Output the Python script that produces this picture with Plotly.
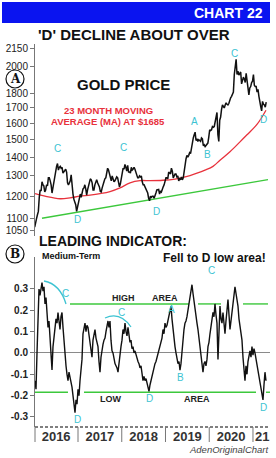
import numpy as np
import plotly.graph_objects as go

W, H = 276, 458

# ---------------- DATA ----------------
# Weekly gold price (4 readings per month), Jan 2016 .. Apr 2021
gold_2016 = [1062, 1090, 1098, 1115, 1130, 1195, 1230, 1225, 1270, 1255, 1250, 1220,
             1230, 1255, 1250, 1290, 1290, 1275, 1255, 1215, 1245, 1280, 1295, 1320,
             1350, 1365, 1330, 1345, 1350, 1340, 1345, 1315, 1325, 1328, 1335, 1320,
             1265, 1255, 1265, 1275, 1305, 1225, 1210, 1185, 1170, 1160, 1130, 1150]
gold_2017 = [1175, 1200, 1210, 1195, 1220, 1235, 1240, 1255, 1235, 1205, 1230, 1250,
             1255, 1285, 1280, 1265, 1230, 1230, 1255, 1268, 1280, 1265, 1255, 1245,
             1222, 1220, 1240, 1265, 1270, 1285, 1290, 1315, 1340, 1330, 1310, 1285,
             1275, 1300, 1285, 1270, 1275, 1285, 1295, 1290, 1265, 1245, 1260, 1295]
gold_2018 = [1320, 1340, 1335, 1360, 1345, 1325, 1355, 1320, 1320, 1315, 1345, 1330,
             1335, 1345, 1335, 1320, 1310, 1290, 1290, 1300, 1295, 1300, 1270, 1255,
             1255, 1245, 1230, 1225, 1215, 1190, 1178, 1200, 1195, 1200, 1200, 1190,
             1200, 1215, 1230, 1230, 1232, 1210, 1225, 1220, 1240, 1245, 1255, 1280]
gold_2019 = [1290, 1290, 1285, 1320, 1315, 1310, 1340, 1325, 1290, 1300, 1310, 1310,
             1295, 1300, 1275, 1285, 1280, 1295, 1280, 1290, 1330, 1345, 1390, 1410,
             1400, 1410, 1425, 1420, 1460, 1500, 1510, 1530, 1545, 1495, 1505, 1490,
             1500, 1495, 1490, 1510, 1505, 1465, 1470, 1460, 1465, 1470, 1480, 1515]
gold_2020 = [1560, 1555, 1560, 1580, 1575, 1580, 1610, 1640, 1670, 1530, 1490, 1620,
             1640, 1690, 1720, 1710, 1700, 1720, 1735, 1725, 1720, 1730, 1755, 1770,
             1780, 1800, 1810, 1940, 2040, 2060, 1940, 1965, 1935, 1945, 1960, 1870,
             1900, 1920, 1905, 1880, 1950, 1885, 1870, 1790, 1840, 1850, 1880, 1890]
gold_2021 = [1940, 1860, 1850, 1850, 1810, 1830, 1780, 1730, 1710, 1680, 1745, 1725,
             1720, 1705, 1740]

# 23-month moving average (decimal year, $)
ma_years = [2016.017, 2016.246, 2016.589, 2016.817, 2017.046, 2017.274, 2017.503,
            2017.731, 2017.960, 2018.189, 2018.417, 2018.646, 2018.943, 2019.217,
            2019.400, 2019.560, 2019.720, 2019.903, 2020.086, 2020.246, 2020.474,
            2020.703, 2020.863, 2021.091, 2021.297]
ma_values = [1212, 1200, 1188, 1192, 1200, 1205, 1212, 1222, 1240, 1265, 1276, 1276,
             1278, 1284, 1292, 1302, 1314, 1330, 1350, 1383, 1430, 1487, 1529, 1593, 1685]

# long-term uptrend line
trend_years = [2016.177, 2021.343]
trend_values = [1100, 1281]

# Leading indicator (medium-term), evenly spaced readings
ind_start, ind_end = 2016.017, 2021.297
indicator = [-0.13, -0.17, 0.00, 0.22, 0.30, 0.27, 0.31, 0.33, 0.29, 0.31,
             0.23, 0.26, 0.19, 0.12, 0.15, 0.05, 0.02, -0.08, 0.03, 0.08,
             0.11, 0.16, 0.14, 0.19, 0.15, 0.11, 0.17, 0.19, 0.12, 0.05,
             -0.02, -0.06, -0.10, -0.13, -0.09, -0.11, -0.14, -0.16, -0.20, -0.24,
             -0.28, -0.22, -0.24, -0.17, -0.20, -0.13, -0.08, -0.03, 0.09, 0.11,
             0.14, 0.10, 0.13, 0.12, 0.08, 0.05, 0.03, -0.02, 0.06, 0.09,
             0.11, 0.07, 0.05, 0.03, -0.04, -0.09, -0.02, 0.02, 0.04, 0.06,
             0.07, 0.10, 0.12, 0.15, 0.12, 0.15, 0.06, 0.01, 0.00, -0.03,
             -0.05, -0.06, -0.07, -0.09, -0.04, 0.00, 0.03, 0.06, 0.11, 0.09,
             0.14, 0.10, 0.08, 0.12, 0.08, 0.05, 0.06, 0.02, 0.03, 0.00,
             0.01, -0.01, -0.02, -0.04, -0.05, -0.07, -0.06, -0.10, -0.13, -0.11,
             -0.13, -0.12, -0.14, -0.16, -0.18, -0.15, -0.13, -0.11, -0.08, -0.07,
             -0.05, -0.04, -0.02, 0.00, 0.01, 0.03, 0.05, 0.07, 0.11, 0.09,
             0.14, 0.12, 0.13, 0.15, 0.17, 0.19, 0.22, 0.16, 0.11, 0.07,
             0.03, 0.00, -0.02, -0.05, -0.04, -0.08, -0.05, 0.01, 0.07, 0.11,
             0.14, 0.15, 0.17, 0.20, 0.22, 0.26, 0.29, 0.32, 0.28, 0.24,
             0.19, 0.16, 0.14, 0.11, 0.07, 0.03, 0.01, -0.02, -0.09, -0.05,
             -0.04, -0.06, -0.03, 0.03, 0.05, 0.09, 0.12, 0.15, 0.19, 0.17,
             0.23, 0.18, 0.14, -0.03, 0.10, 0.22, 0.16, 0.14, 0.19, 0.13,
             0.09, 0.15, 0.20, 0.25, 0.18, 0.11, 0.15, 0.19, 0.25, 0.28,
             0.31, 0.28, 0.25, 0.22, 0.16, 0.12, 0.09, 0.06, -0.02, -0.09,
             -0.13, -0.06, -0.10, -0.04, -0.01, 0.01, -0.02, 0.03, -0.01, 0.02,
             0.00, -0.03, -0.05, -0.08, -0.11, -0.14, -0.17, -0.19, -0.22, -0.15,
             -0.09, -0.13]

high_years = [2016.817, 2019.537, None, 2019.743, 2020.269, None, 2020.771, 2021.343]
high_values = [0.23, 0.23, None, 0.23, 0.23, None, 0.23, 0.23]
low_years = [2016.017, 2016.771, None, 2017.137, 2021.069, None, 2021.297, 2021.389]
low_values = [-0.184, -0.184, None, -0.184, -0.184, None, -0.184, -0.184]

price_ticks = [1050, 1100, 1200, 1300, 1400, 1500, 1600, 1700, 1800, 2000, 2150]
ind_ticks = [-0.3, -0.2, -0.1, 0.0, 0.1, 0.2, 0.3]
ind_tick_text = ["-0.3", "-0.2", "-0.1", "0.0", "0.1", "0.2", "0.3"]
year_ticks = [2016.5, 2017.5, 2018.5, 2019.5, 2020.5, 2021.21]
year_labels = ["2016", "2017", "2018", "2019", "2020", "21"]
year_bounds = [2017, 2018, 2019, 2020, 2021]

# ---------------- BUILD ----------------
gold = gold_2016 + gold_2017 + gold_2018 + gold_2019 + gold_2020 + gold_2021
gold_t = [2016 + (i + 0.5) / 48 for i in range(len(gold))]
ind_t = np.linspace(ind_start, ind_end, len(indicator))

FONT = "Liberation Sans, Arial, sans-serif"
CYAN = "#3cc3d2"
GREEN = "#3cc83c"
RED = "#e8323c"


def px(x):
    return x / W


def py(y):
    return 1 - y / H


fig = go.Figure()
fig.add_trace(go.Scatter(x=trend_years, y=trend_values, mode="lines",
                         line=dict(color=GREEN, width=1.4), xaxis="x", yaxis="y"))
fig.add_trace(go.Scatter(x=ma_years, y=ma_values, mode="lines", line_shape="spline",
                         line=dict(color=RED, width=1.3), xaxis="x", yaxis="y"))
fig.add_trace(go.Scatter(x=gold_t, y=gold, mode="lines",
                         line=dict(color="#111111", width=1.5), xaxis="x", yaxis="y"))

fig.add_trace(go.Scatter(x=high_years, y=high_values, mode="lines",
                         line=dict(color=GREEN, width=1.4), xaxis="x2", yaxis="y2"))
fig.add_trace(go.Scatter(x=low_years, y=low_values, mode="lines",
                         line=dict(color=GREEN, width=1.4), xaxis="x2", yaxis="y2"))
fig.add_trace(go.Scatter(x=ind_t, y=indicator, mode="lines",
                         line=dict(color="#111111", width=1.4), xaxis="x2", yaxis="y2"))

xdom = [35 / W, 270 / W]
xr = [2016.017, 2021.389]

shapes = [
    dict(type="rect", xref="paper", yref="paper", x0=px(2), x1=px(270), y0=py(23), y1=py(2),
         fillcolor="#0a14f0", line=dict(width=0)),
    dict(type="circle", xref="paper", yref="paper", x0=px(6), x1=px(24), y0=py(88), y1=py(70),
         line=dict(color="#111", width=1.2)),
    dict(type="circle", xref="paper", yref="paper", x0=px(6), x1=px(24), y0=py(263), y1=py(245),
         line=dict(color="#111", width=1.2)),
    dict(type="line", xref="paper", yref="paper", x0=px(35), x1=px(270), y0=py(427), y1=py(427),
         line=dict(color="#555", width=1.3, dash="3px,2px")),
    dict(type="line", xref="paper", yref="paper", x0=px(35), x1=px(35), y0=py(427), y1=py(442),
         line=dict(color="#777", width=1)),
    dict(type="path", xref="paper", yref="paper",
         path=f"M {px(44)},{py(281)} Q {px(60)},{py(284)} {px(66)},{py(304)}",
         line=dict(color=CYAN, width=1.3)),
    dict(type="path", xref="paper", yref="paper",
         path=f"M {px(105)},{py(318)} Q {px(120)},{py(311)} {px(131)},{py(327)}",
         line=dict(color=CYAN, width=1.3)),
]
for yb in year_bounds:
    shapes.append(dict(type="line", xref="x2", yref="paper", x0=yb, x1=yb,
                       y0=py(427), y1=py(442), line=dict(color="#777", width=1)))


def ann(x, y, text, size=10, color="#111", anchor="center", bold=False, italic=False,
        family=FONT):
    t = text
    if bold:
        t = f"<b>{t}</b>"
    if italic:
        t = f"<i>{t}</i>"
    return dict(x=px(x), y=py(y), xref="paper", yref="paper", text=t, showarrow=False,
                xanchor=anchor, yanchor="middle",
                font=dict(size=size, color=color, family=family))


annotations = [
    ann(265, 13, "CHART 22", 14, "white", "right", bold=True),
    ann(134, 34, "'D' DECLINE ABOUT OVER", 15, "#111", bold=True),
    ann(123, 85, "GOLD PRICE", 15, "#111", bold=True),
    ann(108, 111, "23 MONTH MOVING", 9.5, RED, bold=True),
    ann(108, 121, "AVERAGE (MA) AT $1685", 9.5, RED, bold=True),
    ann(15, 79, "A", 12, "#111", bold=True, family="DejaVu Serif, serif"),
    ann(15, 254, "B", 12, "#111", bold=True, family="DejaVu Serif, serif"),
    ann(37, 241, "LEADING INDICATOR:", 14, "#111", "left", bold=True),
    ann(40, 256, "Medium-Term", 9, "#111", "left", bold=True),
    ann(268, 258, "Fell to D low area!", 12, "#111", "right", bold=True),
    ann(123, 298, "HIGH", 9, "#222", bold=True),
    ann(165, 298, "AREA", 9, "#222", bold=True),
    ann(110, 399, "LOW", 9, "#222", bold=True),
    ann(197, 399, "AREA", 9, "#222", bold=True),
    ann(271, 449, "AdenOriginalChart", 9.5, "#444", "right", italic=True),
]
for (x, y, t) in [(57, 148, "C"), (123, 147, "C"), (77, 219, "D"), (156, 211, "D"),
                  (194, 121, "A"), (207, 155, "B"), (234, 53, "C"), (263, 120, "D"),
                  (65, 293, "C"), (121, 312, "C"), (77, 419, "D"), (149, 398, "D"),
                  (171, 309, "A"), (180, 377, "B"), (211, 270, "C"), (263, 407, "D")]:
    annotations.append(ann(x, y, t, 10, CYAN))

fig.update_layout(
    width=W, height=H, margin=dict(l=0, r=0, t=0, b=0),
    paper_bgcolor="white", plot_bgcolor="rgba(0,0,0,0)",
    showlegend=False, font=dict(family=FONT, color="#222"),
    xaxis=dict(domain=xdom, range=xr, visible=False, anchor="y", fixedrange=True),
    yaxis=dict(type="log", domain=[1 - 236 / H, 1 - 44 / H],
               range=[np.log10(1025.4), np.log10(2188.6)],
               tickvals=price_ticks, ticktext=[str(v) for v in price_ticks],
               showline=True, linecolor="#777", linewidth=1, ticks="outside", ticklen=4,
               tickcolor="#777", tickfont=dict(size=10, color="#222"),
               showgrid=False, zeroline=False, anchor="x"),
    xaxis2=dict(domain=xdom, range=xr, anchor="y2", tickvals=year_ticks,
                ticktext=year_labels, ticks="", showline=False, showgrid=False,
                zeroline=False, tickfont=dict(size=13, color="#333", weight="bold")),
    yaxis2=dict(domain=[1 - 427 / H, 1 - 257 / H], range=[-0.347, 0.45], anchor="x2",
                tickvals=ind_ticks, ticktext=ind_tick_text, showline=True, linecolor="#777",
                linewidth=1, ticks="outside", ticklen=4, tickcolor="#777",
                tickfont=dict(size=10, color="#222", weight="bold"), showgrid=False,
                zeroline=True, zerolinecolor="#8a8a8a", zerolinewidth=1),
    shapes=shapes, annotations=annotations,
)

fig.write_html("out.html")
